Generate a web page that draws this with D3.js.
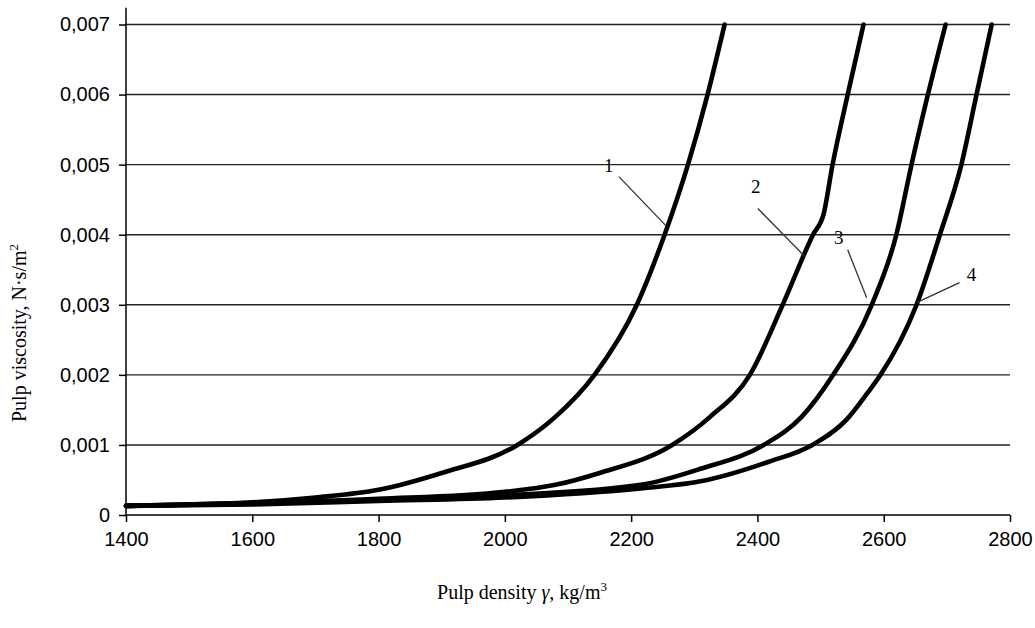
<!DOCTYPE html>
<html>
<head>
<meta charset="utf-8">
<script src="https://cdn.jsdelivr.net/npm/d3@7"></script>
<style>
  html, body { margin: 0; padding: 0; background: #fff; }
  svg { display: block; }
</style>
</head>
<body>
<svg id="chart" width="1035" height="628"></svg>
<script>
// ---- data ----
const xTicks = [1400, 1600, 1800, 2000, 2200, 2400, 2600, 2800];
const yTicks = [0, 0.001, 0.002, 0.003, 0.004, 0.005, 0.006, 0.007];
const yTickLabels = ["0", "0,001", "0,002", "0,003", "0,004", "0,005", "0,006", "0,007"];

const density1 = [1400, 1500, 1600, 1700, 1800, 1900, 2020, 2080, 2142, 2209, 2253, 2290, 2321, 2348];
const visc1    = [0.00013, 0.00015, 0.00018, 0.00025, 0.00036, 0.0006, 0.001, 0.0014, 0.002, 0.003, 0.004, 0.005, 0.006, 0.007];

const density2 = [1400, 1600, 1800, 2000, 2080, 2150, 2265, 2325, 2388, 2440, 2488, 2505, 2519, 2543, 2568];
const visc2    = [0.00013, 0.00017, 0.00023, 0.00033, 0.00043, 0.0006, 0.001, 0.0014, 0.002, 0.003, 0.004, 0.0043, 0.005, 0.006, 0.007];

const density3 = [1400, 1600, 1800, 2000, 2215, 2310, 2410, 2470, 2520, 2581, 2620, 2644, 2670, 2698];
const visc3    = [0.00013, 0.00016, 0.00021, 0.00028, 0.00043, 0.00066, 0.001, 0.0014, 0.002, 0.003, 0.004, 0.005, 0.006, 0.007];

const density4 = [1400, 1600, 1800, 2000, 2215, 2310, 2418, 2487, 2540, 2575, 2595, 2652, 2689, 2723, 2747, 2771];
const visc4    = [0.00013, 0.00015, 0.0002, 0.00025, 0.00038, 0.00048, 0.00076, 0.001, 0.00135, 0.00175, 0.002, 0.003, 0.004, 0.005, 0.006, 0.007];

const seriesNames = ["1", "2", "3", "4"];
const series = [
  { name: "1", x: density1, y: visc1 },
  { name: "2", x: density2, y: visc2 },
  { name: "3", x: density3, y: visc3 },
  { name: "4", x: density4, y: visc4 }
];
// label anchor: where the leader line touches the curve (data coords)
const labelTouch = [
  { name: "1", x: 2255, y: 0.00413 },
  { name: "2", x: 2475, y: 0.00369 },
  { name: "3", x: 2573, y: 0.00310 },
  { name: "4", x: 2652, y: 0.00303 }
];

// ---- layout ----
const svg = d3.select("#chart");
const x = d3.scaleLinear().domain([1400, 2800]).range([126, 1010]);
const y = d3.scaleLinear().domain([0, 0.007]).range([515, 24.5]);

// gridlines
svg.append("g").selectAll("line").data(yTicks.slice(1)).join("line")
  .attr("x1", x(1400)).attr("x2", x(2800))
  .attr("y1", d => y(d)).attr("y2", d => y(d))
  .attr("stroke", "#222").attr("stroke-width", 1.4);

// axes
const yAxis = d3.axisLeft(y).tickValues(yTicks).tickSize(7).tickPadding(9)
  .tickFormat((d, i) => yTickLabels[i]);
const gy = svg.append("g").attr("transform", `translate(${x(1400)},0)`).call(yAxis);
gy.select(".domain").remove();
gy.append("line").attr("x1", 0).attr("x2", 0).attr("y1", y(0)).attr("y2", y(0.00724))
  .attr("stroke", "#000").attr("stroke-width", 1.5);
gy.selectAll(".tick line").attr("stroke", "#000").attr("stroke-width", 1.5);
gy.selectAll(".tick text").attr("font-family", "Liberation Sans, Arial, sans-serif")
  .attr("font-size", 20).attr("fill", "#000");

const xAxis = d3.axisBottom(x).tickValues(xTicks).tickSize(7).tickPadding(10)
  .tickFormat(d3.format("d"));
const gx = svg.append("g").attr("transform", `translate(0,${y(0)})`).call(xAxis);
gx.select(".domain").attr("stroke", "#000").attr("stroke-width", 1.5)
  .attr("d", `M${x(1400)},0H${x(2800)}`);
gx.selectAll(".tick line").attr("stroke", "#000").attr("stroke-width", 1.5);
gx.selectAll(".tick text").attr("font-family", "Liberation Sans, Arial, sans-serif")
  .attr("font-size", 20).attr("fill", "#000");

// curves
const line = d3.line().x(d => x(d[0])).y(d => y(d[1])).curve(d3.curveMonotoneX);
svg.append("g").selectAll("path").data(series).join("path")
  .attr("d", s => line(s.x.map((v, i) => [v, s.y[i]])))
  .attr("fill", "none").attr("stroke", "#000").attr("stroke-width", 4.6)
  .attr("stroke-linejoin", "round").attr("stroke-linecap", "round");

// labels with leader lines (offsets in px from touch point)
const labelOffsets = {
  "1": { lx: -47, ly: -49, tx: -57, ty: -58 },
  "2": { lx: -47, ly: -48, tx: -49, ty: -68 },
  "3": { lx: -19, ly: -48, tx: -28, ty: -58 },
  "4": { lx: 43, ly: -20, tx: 55, ty: -26 }
};
const lab = svg.append("g");
labelTouch.forEach(l => {
  const o = labelOffsets[l.name];
  const px = x(l.x), py = y(l.y);
  lab.append("line").attr("x1", px).attr("y1", py).attr("x2", px + o.lx).attr("y2", py + o.ly)
    .attr("stroke", "#333").attr("stroke-width", 1.3);
  lab.append("text").attr("x", px + o.tx).attr("y", py + o.ty)
    .attr("text-anchor", "middle").attr("dominant-baseline", "middle")
    .attr("font-family", "Liberation Serif, Times New Roman, serif").attr("font-size", 19)
    .text(l.name);
});

// axis titles
const yt = svg.append("text")
  .attr("transform", `translate(26,${333}) rotate(-90)`)
  .attr("text-anchor", "middle")
  .attr("font-family", "Liberation Serif, Times New Roman, serif").attr("font-size", 20);
yt.append("tspan").text("Pulp viscosity, N·s/m");
yt.append("tspan").attr("dy", -8).attr("font-size", 13).text("2");

const xt = svg.append("text")
  .attr("x", 522).attr("y", 599)
  .attr("text-anchor", "middle")
  .attr("font-family", "Liberation Serif, Times New Roman, serif").attr("font-size", 20);
xt.append("tspan").text("Pulp density ");
xt.append("tspan").attr("font-style", "italic").text("γ");
xt.append("tspan").text(", kg/m");
xt.append("tspan").attr("dy", -8).attr("font-size", 13).text("3");
</script>
</body>
</html>
